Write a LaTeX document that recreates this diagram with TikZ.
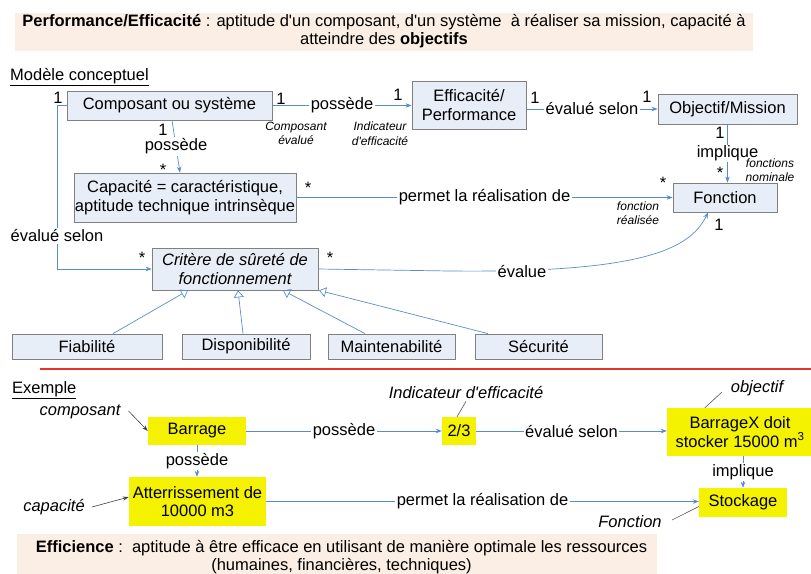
\documentclass[tikz,border=0pt]{standalone}
\usepackage{fontspec}
\setmainfont{Liberation Sans}
\usetikzlibrary{arrows.meta}
\definecolor{boxfill}{RGB}{232,238,247}
\definecolor{boxgray}{RGB}{128,128,128}
\definecolor{lblue}{RGB}{90,140,205}
\definecolor{ybar}{RGB}{245,242,0}
\definecolor{peach}{RGB}{251,238,228}
\definecolor{redline}{RGB}{230,50,40}
\newcommand\msz{\fontsize{16.5}{18.5}\selectfont}
\newcommand\ssz{\fontsize{12}{14.5}\selectfont\itshape}
\newcommand\apo{\textquotesingle}
\tikzset{
  umlbox/.style={draw=boxgray, fill=boxfill, line width=0.8pt, inner sep=0pt, align=center},
  ybox/.style={fill=ybar, inner sep=0pt, align=center},
  peachbox/.style={fill=peach, inner sep=0pt},
  conn/.style={draw=lblue, line width=0.7pt},
  arr/.style={conn, -{Stealth[length=6pt,width=4.5pt]}},
  gen/.style={conn, -{Triangle[open,length=7pt,width=10pt]}},
  lab/.style={fill=white, inner sep=1.5pt},
  mult/.style={inner sep=0pt},
  note/.style={font=\ssz, inner sep=0pt, align=center},
  bignote/.style={font=\msz\itshape, inner sep=0pt},
  ptr/.style={draw=black!75, line width=0.6pt, -{Stealth[length=6pt,width=4pt]}},
  lead/.style={draw=black!65, line width=0.6pt}
}
\begin{document}
\begin{tikzpicture}[x=1pt,y=-1pt,font=\msz]
\useasboundingbox (0,0) rectangle (811,573);

% ---- title
\node[peachbox, minimum width=738, minimum height=38] (titlebox) at (384,32) {};
\node[inner sep=0pt, align=center] (titletext) at (384,31)
 {{\bfseries Performance/Efficacité} : aptitude d\apo un composant, d\apo un système\ \ à réaliser sa mission, capacité à\\atteindre des {\bfseries objectifs}};

\node[inner sep=0pt, anchor=west] (modele) at (10,77) {\underline{Modèle conceptuel}};

% ---- conceptual model boxes
\node[umlbox, minimum width=205, minimum height=29] (comp) at (169.5,105.5) {Composant ou système};
\node[umlbox, minimum width=114, minimum height=48] (eff) at (469,105) {Efficacité/\\Performance};
\node[umlbox, minimum width=139, minimum height=30] (obj) at (727.5,109) {Objectif/Mission};
\node[umlbox, minimum width=104, minimum height=29] (fonc) at (725,197.5) {Fonction};
\node[umlbox, minimum width=222, minimum height=49] (cap) at (185,197.5) {Capacité = caractéristique,\\aptitude technique intrinsèque};
\node[umlbox, minimum width=166, minimum height=42, font=\msz\itshape] (crit) at (235,269) {Critère de sûreté de\\fonctionnement};
\node[umlbox, minimum width=150, minimum height=25] (fia) at (87,346.5) {Fiabilité};
\node[umlbox, minimum width=128, minimum height=25] (dis) at (246,346.5) {Disponibilité};
\node[umlbox, minimum width=127, minimum height=25] (mai) at (391.5,346.5) {Maintenabilité};
\node[umlbox, minimum width=127, minimum height=25] (sec) at (538.5,346.5) {Sécurité};

% ---- conceptual connectors
\draw[arr] (comp.east) -- (comp.east -| eff.west) node[lab, midway] {possède};
\draw[arr] (eff.east |- obj.west) -- (obj.west) node[lab, midway] {évalué selon};
\draw[arr] (obj.south) -- (obj.south |- fonc.north) node[lab, midway, inner sep=0.5pt] {implique};
\draw[arr] ([xshift=2.5pt]comp.south) -- ([xshift=-5pt]cap.north) node[lab, midway] {possède};
\draw[arr] (cap.east) -- (cap.east -| fonc.west) node[lab, midway] {permet la réalisation de};
\coordinate (lc) at (57,0);
\draw[arr] (comp.west) -- (comp.west -| lc) -- (crit.west -| lc) -- (crit.west);
\node[lab] (evsel) at (57,236) {évalué selon};
\coordinate (cv1) at (450,271);
\draw[arr] (crit.east) -- (cv1) .. controls (640,273) and (690,250) .. ([xshift=-17pt]fonc.south);
\node[lab] (evalue) at (522,272) {évalue};

\draw[gen] ([xshift=26pt]fia.north) -- ([xshift=-47pt]crit.south);
\draw[gen] ([xshift=-3pt]dis.north) -- ([xshift=3pt]crit.south);
\draw[gen] ([xshift=-26.5pt]mai.north) -- ([xshift=48pt]crit.south);
\draw[gen] ([xshift=-50.5pt]sec.north) -- ([xshift=84pt]crit.south);

% ---- multiplicities
\node[mult] (m1) at (58,98) {1};
\node[mult] (m2) at (281,99) {1};
\node[mult] (m3) at (398,95) {1};
\node[mult] (m4) at (535,98) {1};
\node[mult] (m5) at (647,97) {1};
\node[mult] (m6) at (720,133) {1};
\node[mult] (m7) at (720,173) {*};
\node[mult] (m8) at (663,183) {*};
\node[mult] (m9) at (719,225) {1};
\node[mult] (m10) at (163,130) {1};
\node[mult] (m11) at (163,170) {*};
\node[mult] (m12) at (308,188) {*};
\node[mult] (m13) at (142,258) {*};
\node[mult] (m14) at (330,258) {*};

% ---- role notes
\node[note] (r1) at (296,133.5) {Composant\\évalué};
\node[note] (r2) at (380,133.5) {Indicateur\\d\apo efficacité};
\node[note] (r3) at (770,170) {fonctions\\nominale};
\node[note] (r4) at (638,213) {fonction\\réalisée};

% ---- separator
\coordinate (sepA) at (40,369);
\coordinate (sepB) at (811,369);
\draw[redline, line width=1.8pt] (sepA) -- (sepB);

% ---- example
\node[inner sep=0pt, anchor=west] (exemple) at (12,390) {\underline{Exemple}};
\node[ybox, minimum width=98, minimum height=28] (bar) at (197,431) {Barrage};
\node[ybox, minimum width=34, minimum height=28] (ind) at (459,431) {2/3};
\node[ybox, minimum width=146, minimum height=48] (bx) at (740,432) {BarrageX doit\\stocker 15000 m\textsuperscript{3}};
\node[ybox, minimum width=88, minimum height=29] (sto) at (743,502.5) {Stockage};
\node[ybox, minimum width=137, minimum height=49] (att) at (197.5,501.5) {Atterrissement de\\10000 m3};

\draw[arr] (bar.east) -- (ind.west) node[lab, midway] {possède};
\draw[arr] (ind.east) -- (ind.east -| bx.west) node[lab, midway] {évalué selon};
\draw[arr] (bar.south) -- (bar.south |- att.north) node[lab, midway] {possède};
\draw[arr] ([xshift=3pt]bx.south) -- (sto.north) node[lab, midway] {implique};
\draw[arr] (att.east) -- (att.east -| sto.west) node[lab, midway] {permet la réalisation de};

\node[bignote] (ncomp) at (80,412) {composant};
\draw[ptr] ([xshift=8pt,yshift=1pt]ncomp.east) -- (bar.west);
\node[bignote] (ncap) at (54,507) {capacité};
\draw[ptr] ([xshift=7pt]ncap.east) -- ([yshift=4.5pt]att.west);
\node[bignote] (nind) at (466,393) {Indicateur d\apo efficacité};
\draw[lead] ([yshift=-2pt]nind.south) -- ([xshift=-2pt]ind.north);
\node[bignote] (nobj) at (757,388) {objectif};
\coordinate (nobjend) at (722,392);
\draw[lead] ([xshift=38pt]bx.north west) -- (nobjend);
\node[bignote] (nfon) at (630,522) {Fonction};
\coordinate (nfonend) at (672,520);
\draw[lead] (nfonend) -- ([yshift=-4pt]sto.west);

% ---- bottom
\node[peachbox, minimum width=640, minimum height=42] (botbox) at (337,555) {};
\node[inner sep=0pt, align=center] (bottext) at (341.5,557)
 {{\bfseries Efficience} :\ \ aptitude à être efficace en utilisant de manière optimale les ressources\\(humaines, financières, techniques)};
\end{tikzpicture}
\end{document}
